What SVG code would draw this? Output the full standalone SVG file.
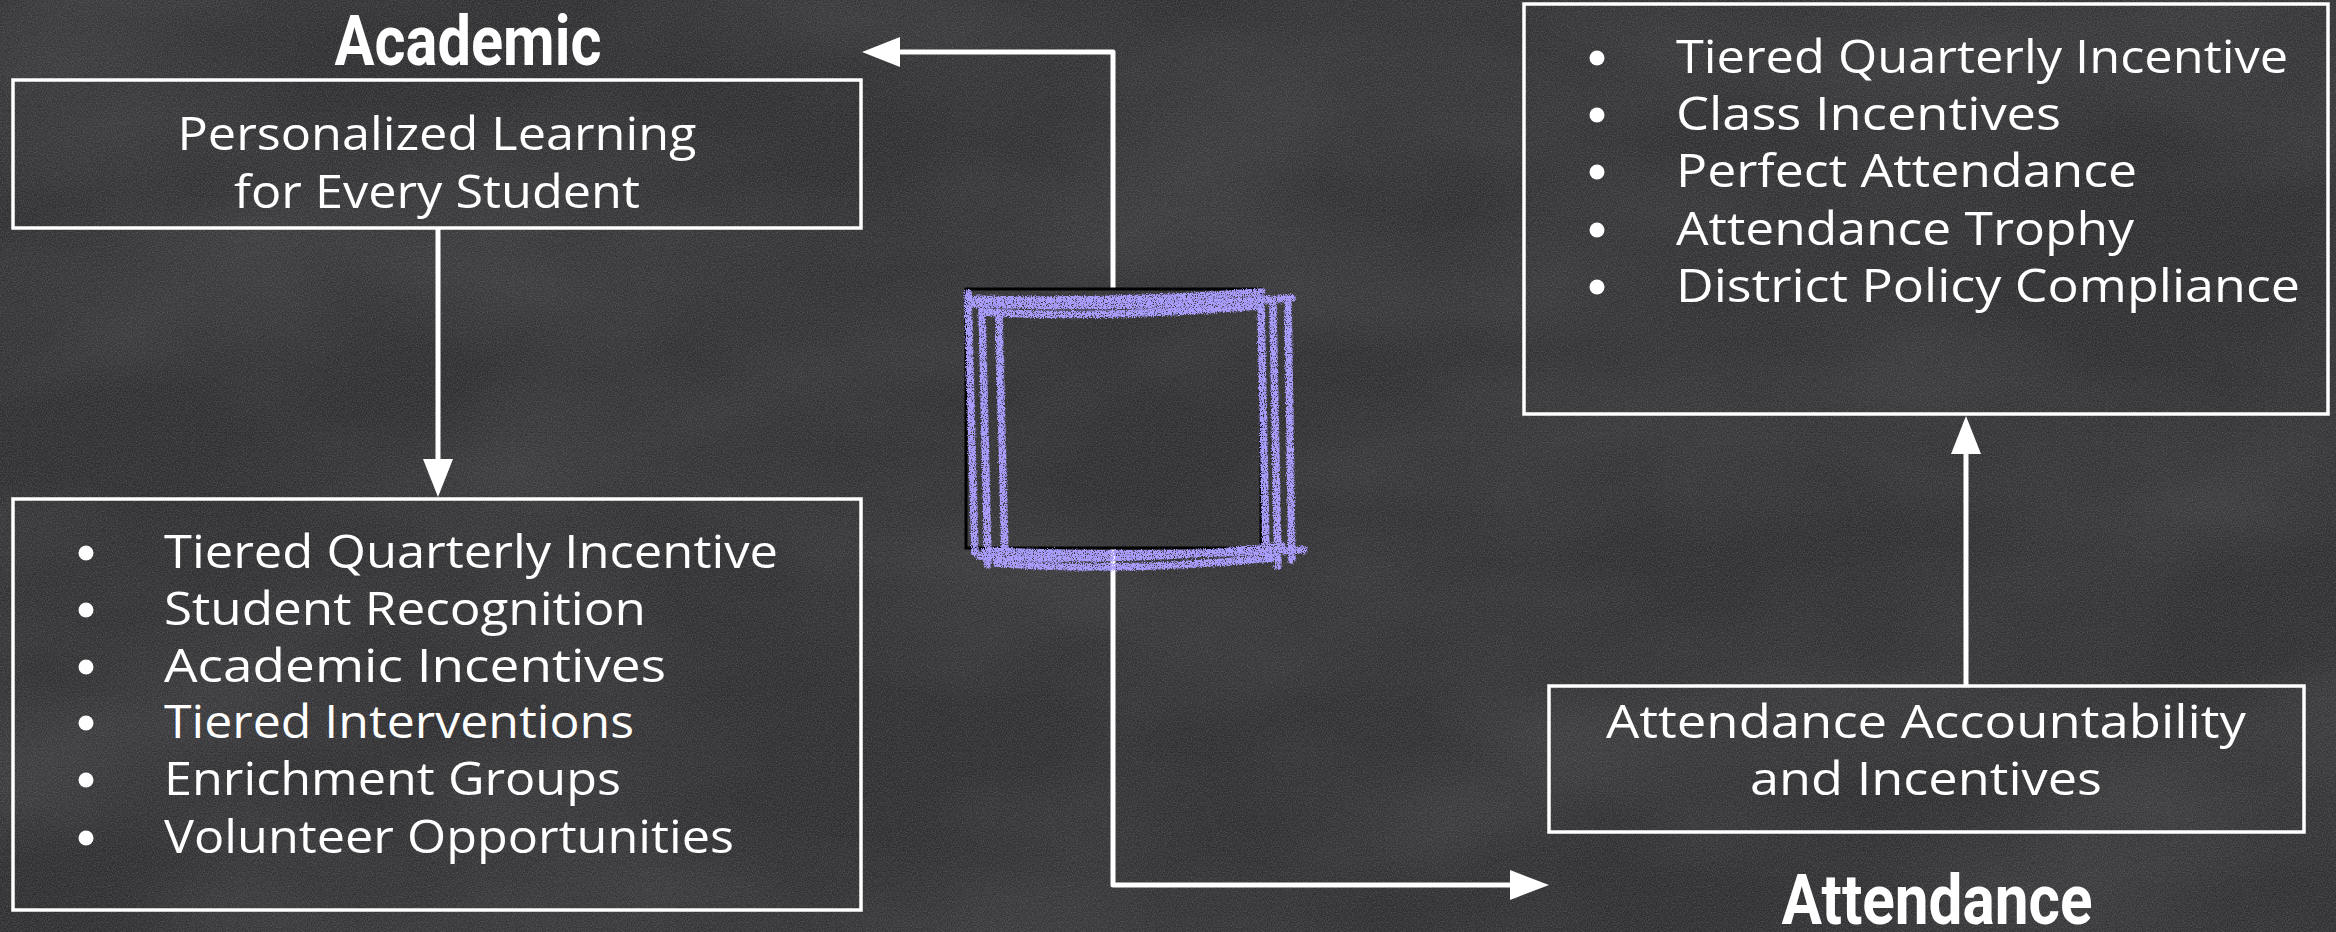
<svg xmlns="http://www.w3.org/2000/svg" width="2336" height="932" viewBox="0 0 2336 932">
  <defs>
    <style>
      .box { fill: none; stroke: #ffffff; stroke-width: 3.5; }
      .body { font-family: "Open Sans", "Liberation Sans", sans-serif; font-weight: 400; font-size: 46px; fill: #ffffff; }
      .title { font-family: Roboto, "Liberation Sans", sans-serif; font-weight: 700; font-size: 70px; fill: #ffffff; }
      .conn { fill: none; stroke: #ffffff; stroke-width: 5; stroke-linejoin: round; }
      .head { fill: #ffffff; }
      .bullet { fill: #ffffff; }
      .chalk { fill: none; stroke: #a99dff; stroke-width: 7.5; stroke-linecap: round; }
    </style>
    <filter id="grain" x="0" y="0" width="100%" height="100%">
      <feTurbulence type="fractalNoise" baseFrequency="0.8" numOctaves="2" seed="7" result="n"/>
      <feColorMatrix in="n" type="matrix" values="0 0 0 0 1  0 0 0 0 1  0 0 0 0 1  0.3 0 0 0 -0.1"/>
    </filter>
    <filter id="smudge" x="0" y="0" width="100%" height="100%">
      <feTurbulence type="fractalNoise" baseFrequency="0.003 0.006" numOctaves="3" seed="11" result="n"/>
      <feColorMatrix in="n" type="matrix" values="0 0 0 0 1  0 0 0 0 1  0 0 0 0 1  0.12 0 0 0 -0.04"/>
    </filter>
    <filter id="chalkf" x="-5%" y="-5%" width="110%" height="110%">
      <feTurbulence type="fractalNoise" baseFrequency="0.9" numOctaves="2" seed="3" result="n"/>
      <feDisplacementMap in="SourceGraphic" in2="n" scale="5" xChannelSelector="R" yChannelSelector="G" result="d"/>
      <feColorMatrix in="n" type="matrix" values="0 0 0 0 0  0 0 0 0 0  0 0 0 0 0  6 0 0 0 -1.7" result="a"/>
      <feComposite in="d" in2="a" operator="in"/>
    </filter>
  </defs>

  <rect x="0" y="0" width="2336" height="932" fill="#2e2d30"/>
  <rect x="0" y="0" width="2336" height="932" filter="url(#smudge)"/>
  <rect x="0" y="0" width="2336" height="932" filter="url(#grain)"/>

  <g id="connectors">
    <path class="conn" d="M1113,289 V52 H898"/>
    <polygon class="head" points="862,52 900,37 900,67"/>
    <path class="conn" d="M438,228 V461"/>
    <polygon class="head" points="423,459 453,459 438,497"/>
    <path class="conn" d="M1113,548 V885 H1512"/>
    <polygon class="head" points="1549,885 1510,870 1510,900"/>
    <path class="conn" d="M1966,686 V452"/>
    <polygon class="head" points="1951,454 1981,454 1966,416"/>
  </g>

  <g id="title-academic">
    <text class="title" x="468" y="65" text-anchor="middle" textLength="267" lengthAdjust="spacingAndGlyphs">Academic</text>
  </g>

  <g id="title-attendance">
    <text class="title" x="1937" y="924" text-anchor="middle" textLength="311" lengthAdjust="spacingAndGlyphs">Attendance</text>
  </g>

  <g id="node-personalized">
    <rect class="box" x="13" y="80" width="848" height="148"/>
    <text class="body" x="437" y="150" text-anchor="middle" textLength="519" lengthAdjust="spacingAndGlyphs">Personalized Learning</text>
    <text class="body" x="437" y="208" text-anchor="middle" textLength="406" lengthAdjust="spacingAndGlyphs">for Every Student</text>
  </g>

  <g id="node-academic-list">
    <rect class="box" x="13" y="499" width="848" height="411"/>
    <circle class="bullet" cx="86" cy="553" r="7.5"/>
    <text class="body" x="164" y="568" textLength="614" lengthAdjust="spacingAndGlyphs">Tiered Quarterly Incentive</text>
    <circle class="bullet" cx="86" cy="610" r="7.5"/>
    <text class="body" x="164" y="625" textLength="482" lengthAdjust="spacingAndGlyphs">Student Recognition</text>
    <circle class="bullet" cx="86" cy="667" r="7.5"/>
    <text class="body" x="164" y="682" textLength="502" lengthAdjust="spacingAndGlyphs">Academic Incentives</text>
    <circle class="bullet" cx="86" cy="723" r="7.5"/>
    <text class="body" x="164" y="738" textLength="470" lengthAdjust="spacingAndGlyphs">Tiered Interventions</text>
    <circle class="bullet" cx="86" cy="780" r="7.5"/>
    <text class="body" x="164" y="795" textLength="457" lengthAdjust="spacingAndGlyphs">Enrichment Groups</text>
    <circle class="bullet" cx="86" cy="838" r="7.5"/>
    <text class="body" x="164" y="853" textLength="570" lengthAdjust="spacingAndGlyphs">Volunteer Opportunities</text>
  </g>

  <g id="node-attendance-list">
    <rect class="box" x="1524" y="4" width="804" height="410"/>
    <circle class="bullet" cx="1597" cy="58" r="7.5"/>
    <text class="body" x="1676" y="73" textLength="612" lengthAdjust="spacingAndGlyphs">Tiered Quarterly Incentive</text>
    <circle class="bullet" cx="1597" cy="115" r="7.5"/>
    <text class="body" x="1676" y="130" textLength="385" lengthAdjust="spacingAndGlyphs">Class Incentives</text>
    <circle class="bullet" cx="1597" cy="172" r="7.5"/>
    <text class="body" x="1676" y="187" textLength="461" lengthAdjust="spacingAndGlyphs">Perfect Attendance</text>
    <circle class="bullet" cx="1597" cy="230" r="7.5"/>
    <text class="body" x="1676" y="245" textLength="458" lengthAdjust="spacingAndGlyphs">Attendance Trophy</text>
    <circle class="bullet" cx="1597" cy="287" r="7.5"/>
    <text class="body" x="1676" y="302" textLength="624" lengthAdjust="spacingAndGlyphs">District Policy Compliance</text>
  </g>

  <g id="node-attendance-accountability">
    <rect class="box" x="1549" y="686" width="755" height="146"/>
    <text class="body" x="1926" y="738" text-anchor="middle" textLength="640" lengthAdjust="spacingAndGlyphs">Attendance Accountability</text>
    <text class="body" x="1926" y="795" text-anchor="middle" textLength="352" lengthAdjust="spacingAndGlyphs">and Incentives</text>
  </g>

  <g id="node-center">
    <rect x="966" y="289" width="295" height="259" fill="none" stroke="#000000" stroke-width="3"/>
    <g filter="url(#chalkf)">
      <path class="chalk" d="M968,293 L975,553"/>
      <path class="chalk" d="M982,306 L988,565"/>
      <path class="chalk" d="M999,314 L1005,556"/>
      <path class="chalk" d="M1261,300 L1266,552"/>
      <path class="chalk" d="M1273,306 L1278,566"/>
      <path class="chalk" d="M1288,298 L1292,560"/>
      <path class="chalk" d="M970,299 Q1110,303 1262,292"/>
      <path class="chalk" d="M973,304 Q1150,309 1292,298"/>
      <path class="chalk" d="M984,312 Q1100,319 1257,306"/>
      <path class="chalk" d="M985,551 Q1150,557 1304,550"/>
      <path class="chalk" d="M980,556 Q1140,563 1282,546"/>
      <path class="chalk" d="M997,563 Q1110,573 1272,558"/>
    </g>
  </g>
</svg>
